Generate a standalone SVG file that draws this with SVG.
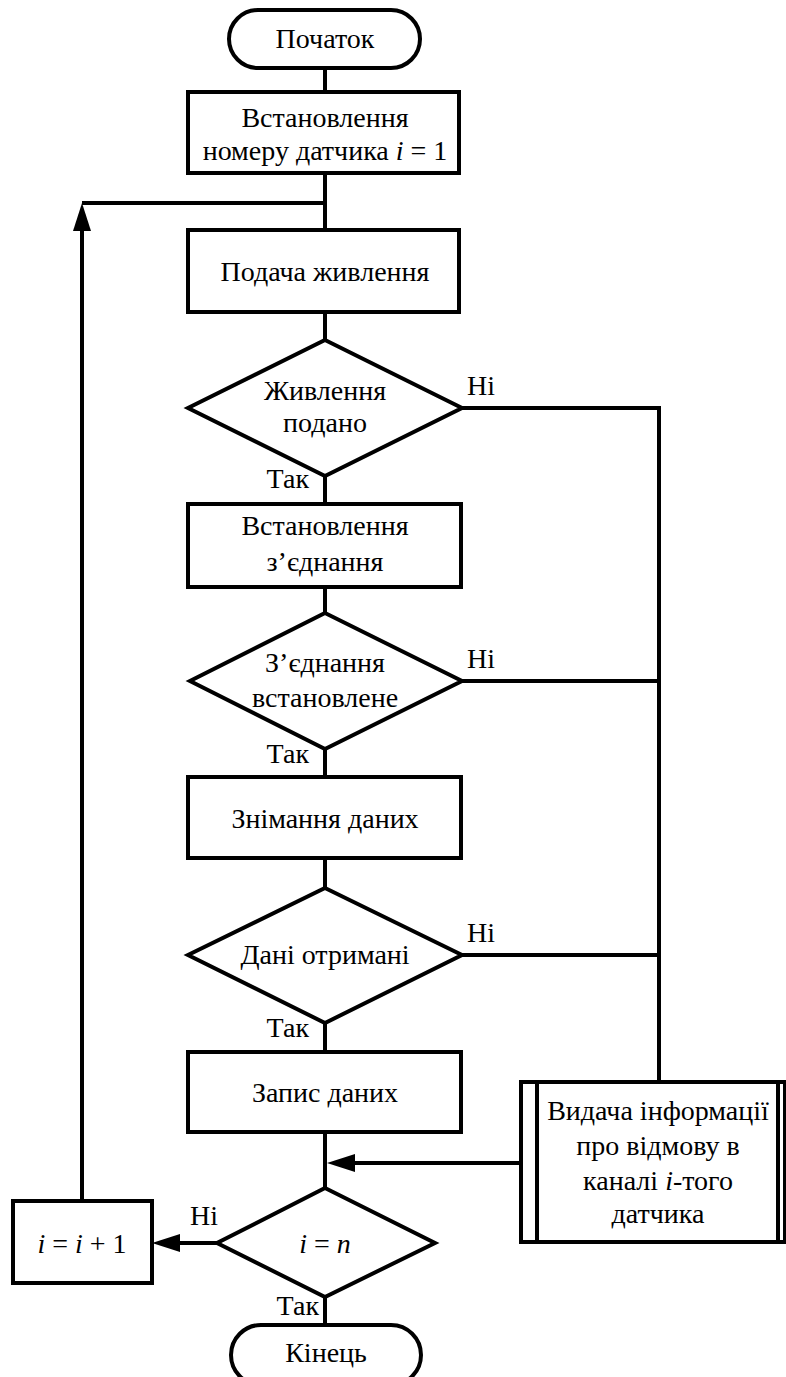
<svg xmlns="http://www.w3.org/2000/svg" width="786" height="1377" viewBox="0 0 786 1377">
<defs>
<style>
.s{fill:#fff;stroke:#000;stroke-width:4;stroke-linejoin:miter}
.c{fill:none;stroke:#000;stroke-width:4}
text{font-family:"Liberation Serif","Times New Roman","DejaVu Serif",serif;font-size:28px;fill:#000}
.m{text-anchor:middle}
.e{text-anchor:end}
.i{font-style:italic}
</style>
<marker id="ah" markerUnits="userSpaceOnUse" markerWidth="28" markerHeight="18" refX="0" refY="9" orient="auto" overflow="visible">
<path d="M0,0 L28,9 L0,18 z" fill="#000"/>
</marker>
</defs>
<rect width="786" height="1377" fill="#fff"/>
<g id="connectors">
<path class="c" d="M325,68 V92"/>
<path class="c" d="M325,173 V230"/>
<path class="c" d="M325,312 V340"/>
<path class="c" d="M325,476 V504"/>
<path class="c" d="M325,587 V613"/>
<path class="c" d="M325,749 V777"/>
<path class="c" d="M325,858 V888"/>
<path class="c" d="M325,1023 V1052"/>
<path class="c" d="M325,1132 V1188"/>
<path class="c" d="M325,1297 V1325"/>
<path class="c" d="M325,203 H82"/>
<path class="c" d="M82,1201 V231" marker-end="url(#ah)"/>
<path class="c" d="M462,408 H659"/>
<path class="c" d="M462,681 H659"/>
<path class="c" d="M462,955 H659"/>
<path class="c" d="M659,406 V1082"/>
<path class="c" d="M521,1163 H355" marker-end="url(#ah)"/>
<path class="c" d="M217,1243 H180" marker-end="url(#ah)"/>
<text x="467" y="395">Ні</text>
<text x="467" y="668">Ні</text>
<text x="467" y="942">Ні</text>
<text class="e" x="309" y="488">Так</text>
<text class="e" x="309" y="763">Так</text>
<text class="e" x="309" y="1037">Так</text>
<text x="190" y="1225">Ні</text>
<text class="e" x="319" y="1315">Так</text>
</g>
<g id="start">
<rect class="s" x="229" y="10" width="191" height="58" rx="29"/>
<text class="m" x="325" y="48">Початок</text>
</g>
<g id="set-sensor">
<rect class="s" x="188" y="92" width="271" height="81"/>
<text class="m" x="325" y="127">Встановлення</text>
<text class="m" x="325" y="160">номеру датчика <tspan class="i">i</tspan> = 1</text>
</g>
<g id="power">
<rect class="s" x="188" y="230" width="271" height="82"/>
<text class="m" x="325" y="281">Подача живлення</text>
</g>
<g id="power-check">
<polygon class="s" points="325,340 462,408 325,476 188,408"/>
<text class="m" x="325" y="400">Живлення</text>
<text class="m" x="325" y="432">подано</text>
</g>
<g id="connect">
<rect class="s" x="188" y="504" width="273" height="83"/>
<text class="m" x="325" y="535">Встановлення</text>
<text class="m" x="325" y="571">з’єднання</text>
</g>
<g id="connect-check">
<polygon class="s" points="325,613 462,681 325,749 190,681"/>
<text class="m" x="325" y="672">З’єднання</text>
<text class="m" x="325" y="707">встановлене</text>
</g>
<g id="read">
<rect class="s" x="188" y="777" width="273" height="81"/>
<text class="m" x="325" y="828">Знімання даних</text>
</g>
<g id="data-check">
<polygon class="s" points="325,888 462,955 325,1023 188,955"/>
<text class="m" x="325" y="964">Дані отримані</text>
</g>
<g id="write">
<rect class="s" x="188" y="1052" width="273" height="80"/>
<text class="m" x="325" y="1102">Запис даних</text>
</g>
<g id="failure">
<rect class="s" x="521" y="1082" width="264" height="160"/>
<path class="c" d="M537,1082 V1242 M778,1082 V1242"/>
<text class="m" x="658" y="1120">Видача інформації</text>
<text class="m" x="658" y="1155">про відмову в</text>
<text class="m" x="658" y="1190">каналі <tspan class="i">i</tspan>-того</text>
<text class="m" x="658" y="1223">датчика</text>
</g>
<g id="last-check">
<polygon class="s" points="325,1188 435,1243 325,1297 217,1243"/>
<text class="m" x="325" y="1253"><tspan class="i">i</tspan> = <tspan class="i">n</tspan></text>
</g>
<g id="increment">
<rect class="s" x="13" y="1201" width="139" height="82"/>
<text class="m" x="82" y="1253"><tspan class="i">i</tspan> = <tspan class="i">i</tspan> + 1</text>
</g>
<g id="end">
<rect class="s" x="231" y="1325" width="190" height="60" rx="30"/>
<text class="m" x="326" y="1362">Кінець</text>
</g>
</svg>
